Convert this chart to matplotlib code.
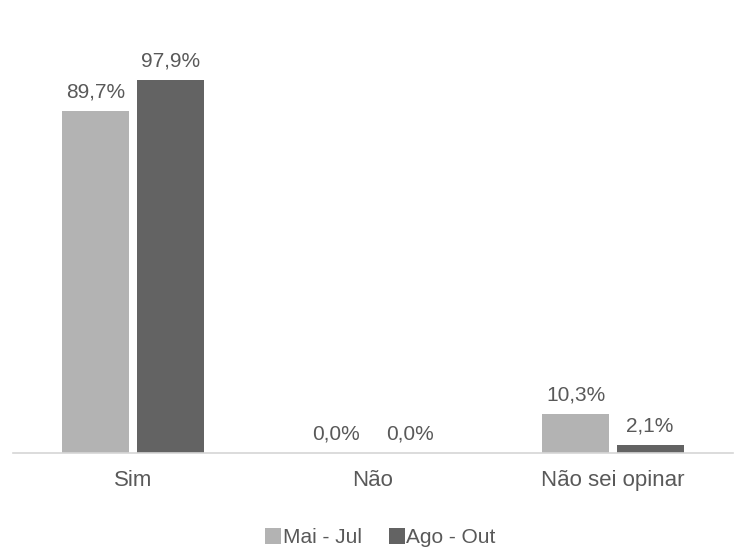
import matplotlib.pyplot as plt
import numpy as np

plt.rcParams['font.family'] = ['Liberation Sans', 'DejaVu Sans']

categorias = ["Sim", "Não", "Não sei opinar"]
series = ["Mai - Jul", "Ago - Out"]
mai_jul = [89.7, 0.0, 10.3]
ago_out = [97.9, 0.0, 2.1]
cores = ["#b3b3b3", "#636363"]
texto = "#595959"

fig = plt.figure(figsize=(7.5, 5.5), dpi=100)
ax = fig.add_axes([0.0173, 0.1764, 0.96, 0.749])

x = np.arange(len(categorias))
w = 0.28
gap = 0.015
b1 = ax.bar(x - w / 2 - gap, mai_jul, w, color=cores[0], label=series[0])
b2 = ax.bar(x + w / 2 + gap, ago_out, w, color=cores[1], label=series[1])

def rotulos(bars, vals):
    for b, v in zip(bars, vals):
        ax.text(b.get_x() + b.get_width() / 2, v + 2.5,
                f"{v:.1f}%".replace(".", ","),
                ha="center", va="bottom", fontsize=15, color=texto)

rotulos(b1, mai_jul)
rotulos(b2, ago_out)

ax.set_xlim(-0.5, 2.5)
ax.set_ylim(0, 108)
ax.set_xticks(x)
ax.set_xticklabels(categorias, fontsize=16, color=texto)
ax.tick_params(axis="x", length=0, pad=12)
ax.set_yticks([])
for s in ["top", "right", "left"]:
    ax.spines[s].set_visible(False)
ax.spines["bottom"].set_color("#d6d6d6")
ax.spines["bottom"].set_linewidth(1.2)

fig.legend(handles=[b1, b2], labels=series, loc="center",
           bbox_to_anchor=(0.507, 0.023), ncol=2, frameon=False,
           fontsize=15, labelcolor=texto, handlelength=0.8, handleheight=0.8,
           handletextpad=0.05, columnspacing=1.3)

fig.savefig("out.png", dpi=100)
